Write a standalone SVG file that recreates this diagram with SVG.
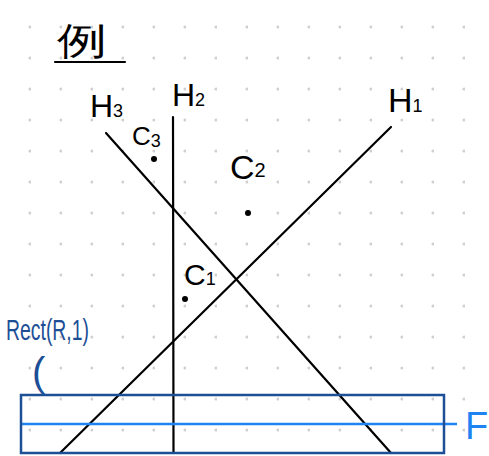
<svg xmlns="http://www.w3.org/2000/svg" width="489" height="456" viewBox="0 0 489 456">
<defs>
<style>
.grid{fill:#cfcfcf}
.ln{stroke:#000;stroke-width:2.2;fill:none;stroke-linecap:round}
.pt{fill:#000}
.lbl{font-family:"Liberation Sans","DejaVu Sans",sans-serif;fill:#000}
.blue{fill:#1d4f96}
.lblue{fill:#1f84f2}
</style>
<pattern id="dots" x="0" y="0" width="31" height="31" patternUnits="userSpaceOnUse">
<circle cx="30" cy="27" r="1.6" class="grid"/>
</pattern>
</defs>
<rect width="489" height="456" fill="#fff"/>
<rect width="489" height="456" fill="url(#dots)"/>

<g id="title">
<text x="57" y="54" class="lbl" font-family="'Noto Sans CJK JP','Noto Sans CJK SC',sans-serif" font-size="38" textLength="50" lengthAdjust="spacingAndGlyphs">例</text>
<line x1="55" y1="62" x2="125" y2="62" class="ln" stroke-width="2.5"/>
</g>

<g id="connectors">
<line id="H3-line" x1="106" y1="133" x2="391" y2="453" class="ln"/>
<line id="H2-line" x1="173" y1="117" x2="173.5" y2="453" class="ln"/>
<line id="H1-line" x1="391" y1="127" x2="60" y2="453" class="ln"/>
<line id="F-line" x1="21" y1="424" x2="457" y2="424" stroke="#1f84f2" stroke-width="2.5"/>
</g>

<g id="rect">
<rect x="21" y="395" width="423" height="58" fill="none" stroke="#1d4f96" stroke-width="2.5"/>
</g>

<g id="H3"><text x="90" y="117" class="lbl" font-size="32">H<tspan font-size="18">3</tspan></text></g>
<g id="H2"><text x="172" y="106" class="lbl" font-size="32">H<tspan font-size="18">2</tspan></text></g>
<g id="H1"><text x="388" y="112" class="lbl" font-size="34">H<tspan font-size="18">1</tspan></text></g>

<g id="C3"><circle cx="154" cy="159" r="3" class="pt"/><text x="132" y="145" class="lbl" font-size="26">C<tspan font-size="18" dy="2">3</tspan></text></g>
<g id="C2"><circle cx="248" cy="213" r="3" class="pt"/><text x="230" y="179" class="lbl" font-size="34">C<tspan font-size="20" dy="-2">2</tspan></text></g>
<g id="C1"><circle cx="185" cy="299" r="3" class="pt"/><text x="184" y="285" class="lbl" font-size="30">C<tspan font-size="18">1</tspan></text></g>

<g id="RectLabel">
<text x="6" y="340" class="lbl blue" font-size="30" textLength="83" lengthAdjust="spacingAndGlyphs">Rect(R,1)</text>
<text x="32" y="386" class="lbl blue" font-size="40">(</text>
</g>

<g id="F"><text x="465" y="439" class="lbl lblue" font-size="38">F</text></g>
</svg>
